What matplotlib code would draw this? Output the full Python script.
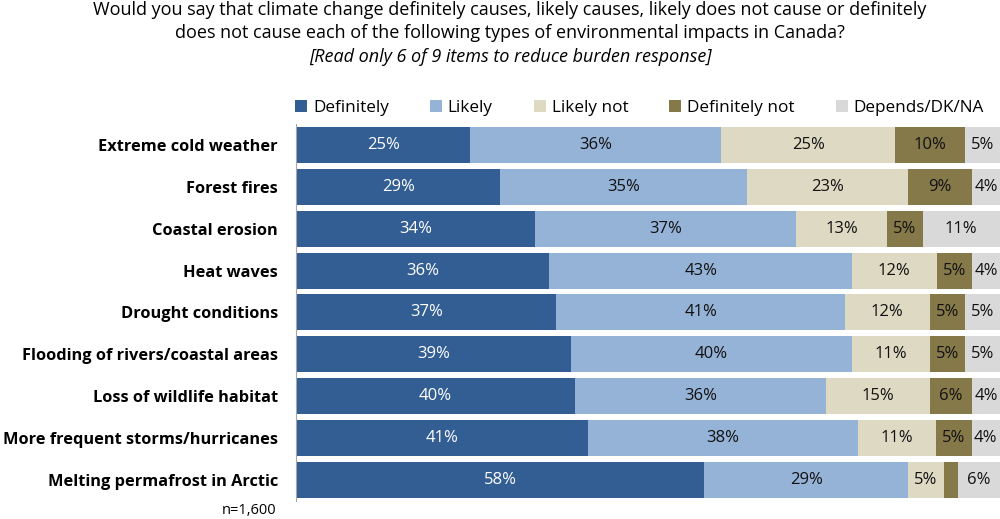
import numpy as np
import matplotlib.pyplot as plt
from matplotlib.patches import Patch

# ─── Data ───
items = ["Extreme cold weather", "Forest fires", "Coastal erosion", "Heat waves",
         "Drought conditions", "Flooding of rivers/coastal areas",
         "Loss of wildlife habitat", "More frequent storms/hurricanes",
         "Melting permafrost in Arctic"]
series = ["Definitely", "Likely", "Likely not", "Definitely not", "Depends/DK/NA"]
definitely = [25, 29, 34, 36, 37, 39, 40, 41, 58]
likely = [36, 35, 37, 43, 41, 40, 36, 38, 29]
likely_not = [25, 23, 13, 12, 12, 11, 15, 11, 5]
definitely_not = [10, 9, 5, 5, 5, 5, 6, 5, 2]
depends = [5, 4, 11, 4, 5, 5, 4, 4, 6]
# the 2% slice on the last row is not labelled in the original
show_label = [[True] * 9, [True] * 9, [True] * 9, [True] * 8 + [False], [True] * 9]

colors = ["#335E93", "#95B3D7", "#DDD9C3", "#857849", "#D9D9D9"]
text_colors = ["white", "#111111", "#111111", "#111111", "#111111"]

plt.rcParams["font.family"] = ["Open Sans", "DejaVu Sans"]

fig = plt.figure(figsize=(10, 5.19), dpi=100)
ax = fig.add_axes([0.296, 0.035, 0.704, 0.726])

values = np.array([definitely, likely, likely_not, definitely_not, depends], dtype=float)
# rounded shares do not always add to 100, bars are drawn as full rows
shares = values / values.sum(axis=0) * 100

y = np.arange(len(items))
left = np.zeros(len(items))
for i in range(len(series)):
    ax.barh(y, shares[i], left=left, height=0.86, color=colors[i], label=series[i],
            edgecolor="none")
    for j, v in enumerate(shares[i]):
        if show_label[i][j]:
            ax.text(left[j] + v / 2, y[j], f"{int(values[i][j])}%", ha="center",
                    va="center", fontsize=12, color=text_colors[i])
    left += shares[i]

ax.set_xlim(0, 100)
ax.set_ylim(len(items) - 0.5, -0.5)
ax.set_yticks(y)
ax.set_yticklabels(items, fontsize=11.8, fontweight="bold")
ax.tick_params(axis="y", length=0, pad=13)
ax.set_xticks([])
for s in ["top", "right", "bottom"]:
    ax.spines[s].set_visible(False)
ax.spines["left"].set_color("#A6A6A6")
ax.spines["left"].set_linewidth(0.8)

handles = [Patch(facecolor=c, label=s) for c, s in zip(colors, series)]
ax.legend(handles=handles, loc="lower left", bbox_to_anchor=(-0.016, 0.995),
          ncol=5, frameon=False, fontsize=12.3, columnspacing=2.4,
          handlelength=0.7, handleheight=0.7, handletextpad=0.35, borderaxespad=0.2)

fig.text(0.51, 0.981, "Would you say that climate change definitely causes, likely causes, likely does not cause or definitely",
         ha="center", va="center", fontsize=13)
fig.text(0.51, 0.936, "does not cause each of the following types of environmental impacts in Canada?",
         ha="center", va="center", fontsize=13)
fig.text(0.51, 0.891, "[Read only 6 of 9 items to reduce burden response]",
         ha="center", va="center", fontsize=13, style="italic")
fig.text(0.222, 0.017, "n=1,600", ha="left", va="center", fontsize=10.5)

fig.savefig("out.png", dpi=100)
